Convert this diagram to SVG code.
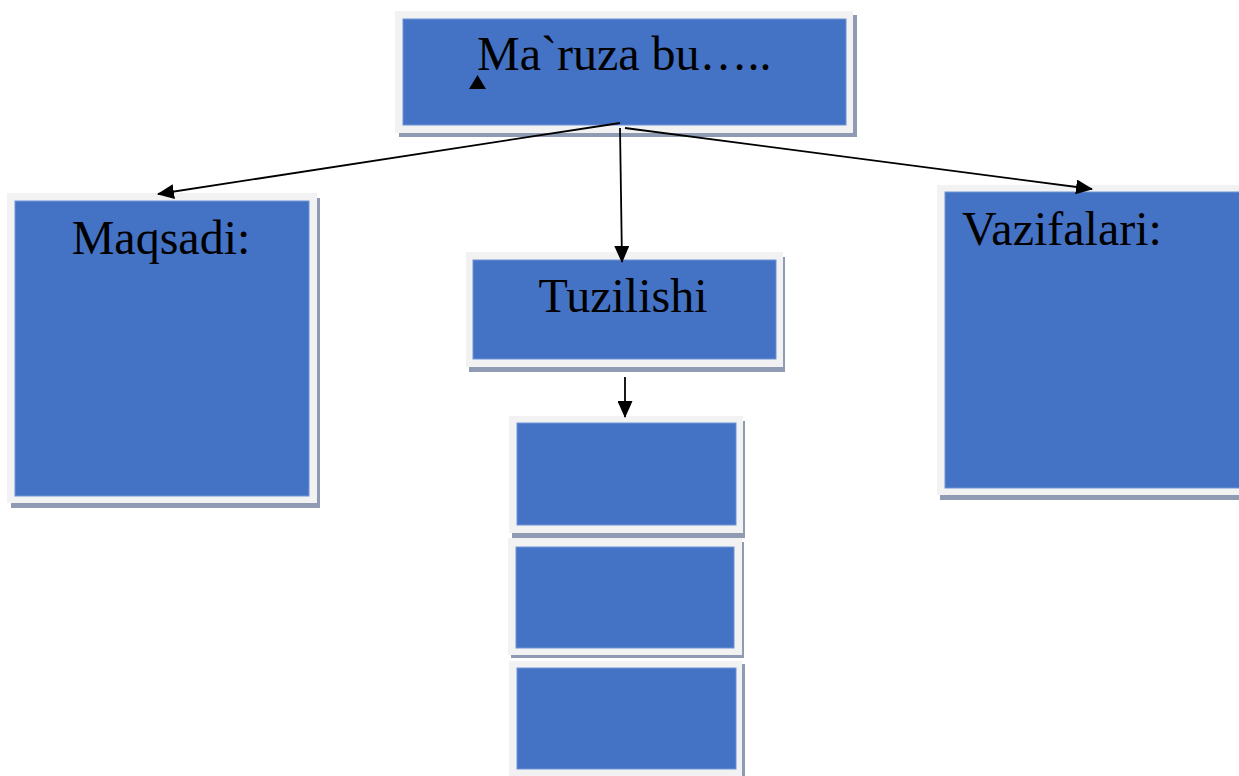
<svg xmlns="http://www.w3.org/2000/svg" width="1239" height="776" viewBox="0 0 1239 776">
<style>
.sh{fill:#8f9bb3}
.ou{fill:#f2f2f2}
.in{fill:#4472c4;stroke:#6f93d6;stroke-width:1}
.t{font-family:"Liberation Serif","Times New Roman",serif;font-size:48px;fill:#000}
.c{stroke:#000;stroke-width:1.8;fill:none;marker-end:url(#ah)}
</style>
<defs>
<marker id="ah" viewBox="0 0 17 15" refX="16" refY="7.5" markerWidth="17" markerHeight="15" markerUnits="userSpaceOnUse" orient="auto">
<path d="M0,0 L17,7.5 L0,15 Z" fill="#000"/>
</marker>
</defs>
<rect width="1239" height="776" fill="#fff"/>
<g id="node-maruza">
<rect class="sh" x="399" y="15" width="458" height="122"/>
<rect class="ou" x="395" y="11" width="458" height="122"/>
<rect class="in" x="403" y="19" width="443" height="106"/>
<text class="t" x="477" y="70">Ma`ruza bu…..</text>
<polygon points="477.5,75 469,89 486,89" fill="#000"/>
</g>
<g id="node-maqsadi">
<rect class="sh" x="11" y="198" width="309" height="310"/>
<rect class="ou" x="7" y="193" width="310" height="310"/>
<rect class="in" x="15" y="201" width="294" height="295"/>
<text class="t" x="161" y="254" text-anchor="middle">Maqsadi:</text>
</g>
<g id="node-tuzilishi">
<rect class="sh" x="469" y="257" width="316" height="115"/>
<rect class="ou" x="466" y="252" width="317" height="115"/>
<rect class="in" x="473" y="260" width="303" height="99"/>
<text class="t" x="623" y="312" text-anchor="middle">Tuzilishi</text>
</g>
<g id="node-vazifalari">
<rect class="sh" x="940" y="190" width="305" height="310"/>
<rect class="ou" x="937" y="185" width="308" height="310"/>
<rect class="in" x="945" y="192" width="300" height="296"/>
<text class="t" x="962" y="245">Vazifalari:</text>
</g>
<g id="node-part1">
<rect class="sh" x="512" y="421" width="233" height="117"/>
<rect class="ou" x="509" y="416" width="234" height="117"/>
<rect class="in" x="517" y="423" width="219" height="102"/>
</g>
<g id="node-part2">
<rect class="sh" x="511" y="542" width="233" height="116"/>
<rect class="ou" x="508" y="538" width="234" height="117"/>
<rect class="in" x="516" y="547" width="218" height="101"/>
</g>
<g id="node-part3">
<rect class="sh" x="512" y="664" width="233" height="120"/>
<rect class="ou" x="509" y="661" width="233" height="120"/>
<rect class="in" x="517" y="668" width="219" height="101"/>
</g>
<g id="connectors">
<line class="c" x1="620" y1="123" x2="158" y2="194"/>
<line class="c" x1="620" y1="128" x2="622" y2="262"/>
<line class="c" x1="625" y1="128" x2="1092" y2="189"/>
<line class="c" x1="625" y1="377" x2="625" y2="417"/>
</g>
</svg>
